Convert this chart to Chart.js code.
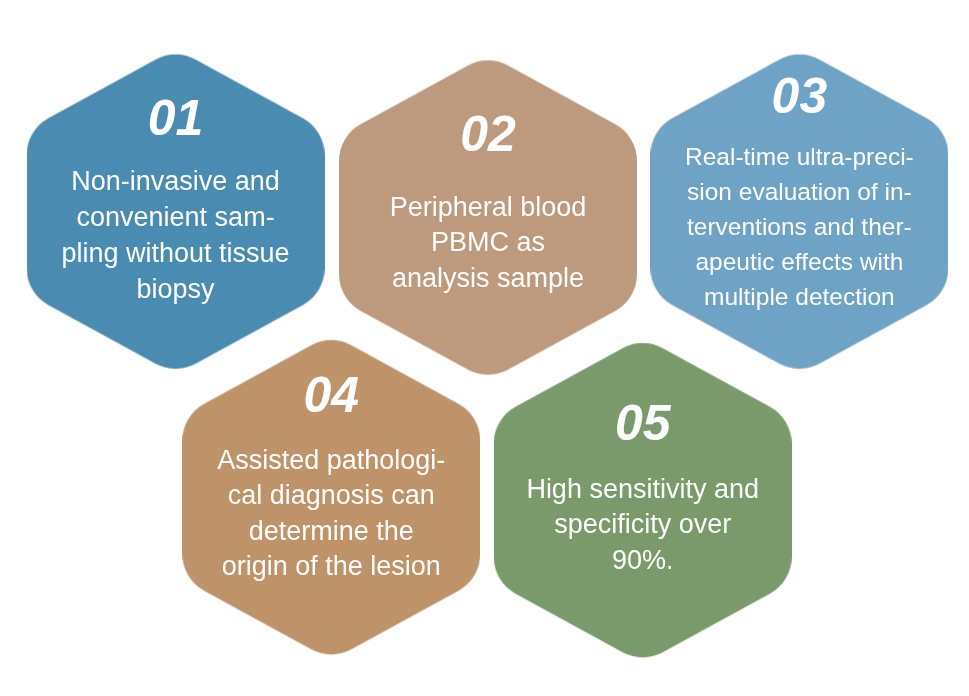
<!DOCTYPE html>
<html><head><meta charset="utf-8">
<script src="https://cdn.jsdelivr.net/npm/chart.js@4"></script>
<style>html,body{margin:0;background:#fff}canvas{display:block}</style>
</head><body>
<canvas id="c" width="969" height="696"></canvas>
<script>
const numbers = ['01', '02', '03', '04', '05'];
const texts = [
  ['Non-invasive and', 'convenient sam-', 'pling without tissue', 'biopsy'],
  ['Peripheral blood', 'PBMC as', 'analysis sample'],
  ['Real-time ultra-preci-', 'sion evaluation of in-', 'terventions and ther-', 'apeutic effects with', 'multiple detection'],
  ['Assisted pathologi-', 'cal diagnosis can', 'determine the', 'origin of the lesion'],
  ['High sensitivity and', 'specificity over', '90%.']
];
const centerX = [173, 488, 802, 330, 644];
const centerY = [210, 216, 210, 499, 502];
const colors = ['#4a8bb1', '#bd9a7e', '#6ea3c6', '#bf936a', '#7a9a6b'];

// layout (px relative to hexagon centre)
const numOffset = [-90, -80, -112, -99, -74];
const textStart = [-29, -9, -53, -36, -10];
const lineGap = [36, 35.5, 35, 35.5, 35.5];
const fontSize = [27, 27, 24.5, 27, 27];

function hexCanvas(color) {
  const w = 298, h = 326, r = 42;
  const cv = document.createElement('canvas');
  cv.width = w; cv.height = h;
  const g = cv.getContext('2d');
  const pts = [[w/2, 0], [w, h/4], [w, 3*h/4], [w/2, h], [0, 3*h/4], [0, h/4]];
  g.beginPath();
  const m0 = [(pts[5][0]+pts[0][0])/2, (pts[5][1]+pts[0][1])/2];
  g.moveTo(m0[0], m0[1]);
  for (let i = 0; i < 6; i++) {
    const p = pts[i], q = pts[(i+1)%6];
    g.arcTo(p[0], p[1], q[0], q[1], r);
  }
  g.closePath();
  g.fillStyle = color;
  g.fill();
  return cv;
}

const labelPlugin = {
  id: 'labels',
  afterDatasetsDraw(chart) {
    const ctx = chart.ctx, xs = chart.scales.x, ys = chart.scales.y;
    ctx.save();
    ctx.fillStyle = '#fff';
    ctx.textAlign = 'center';
    ctx.textBaseline = 'middle';
    numbers.forEach((n, i) => {
      const cx = xs.getPixelForValue(centerX[i]);
      const cy = ys.getPixelForValue(centerY[i]);
      ctx.font = 'italic bold 50px "Liberation Sans", Arial, sans-serif';
      ctx.fillText(n, cx, cy + numOffset[i]);
      ctx.font = fontSize[i] + 'px "Liberation Sans", Arial, sans-serif';
      texts[i].forEach((t, j) => ctx.fillText(t, cx, cy + textStart[i] + j * lineGap[i]));
    });
    ctx.restore();
  }
};

new Chart(document.getElementById('c'), {
  type: 'scatter',
  data: {
    datasets: [{
      data: centerX.map((x, i) => ({ x, y: centerY[i] })),
      pointStyle: colors.map(hexCanvas),
      pointRadius: 1,
      pointBorderWidth: 0,
      clip: false
    }]
  },
  options: {
    responsive: false,
    animation: false,
    layout: { padding: 0 },
    plugins: { legend: { display: false }, tooltip: { enabled: false } },
    scales: {
      x: { type: 'linear', min: 0, max: 969, display: false },
      y: { type: 'linear', min: 0, max: 696, reverse: true, display: false }
    }
  },
  plugins: [labelPlugin]
});
</script>
</body></html>
